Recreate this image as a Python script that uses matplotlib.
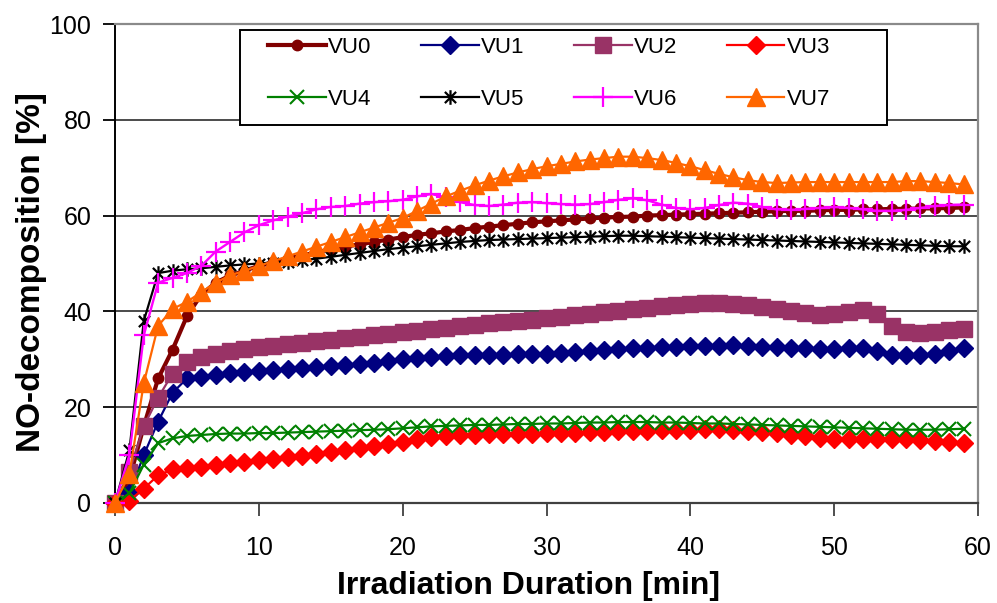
import matplotlib
matplotlib.use("Agg")
import matplotlib.pyplot as plt
from matplotlib.path import Path
from matplotlib.patches import Rectangle

plt.rcParams['font.family'] = ['Liberation Sans', 'DejaVu Sans']

minutes = list(range(60))

vu0 = [0, 5, 16, 26, 32, 39, 43.5, 46, 47.5, 48.5, 49.5, 50.3, 51, 51.7, 52.3, 53, 53.5, 54, 54.5, 55,
       55.5, 56, 56.3, 56.7, 57, 57.4, 57.7, 58, 58.3, 58.6, 58.8, 59, 59.2, 59.4, 59.6, 59.7, 59.8, 60, 60.1, 60.2,
       60.3, 60.4, 60.5, 60.6, 60.7, 60.8, 60.9, 61, 61, 61.1, 61.2, 61.2, 61.3, 61.3, 61.4, 61.4, 61.5, 61.5, 61.6, 61.7]
vu1 = [0, 2, 10, 17, 23, 26, 26.3, 26.8, 27.2, 27.4, 27.6, 27.8, 28, 28.1, 28.3, 28.5, 28.8, 29, 29.3, 29.6,
       30, 30.2, 30.4, 30.6, 30.8, 30.9, 31, 31, 31.1, 31.1, 31.2, 31.3, 31.5, 31.7, 32, 32.2, 32.3, 32.4, 32.5, 32.6,
       32.7, 32.8, 32.8, 32.9, 32.8, 32.6, 32.5, 32.4, 32.3, 32.2, 32.2, 32.3, 32.4, 31.8, 31, 31, 30.8, 31.2, 31.8, 32.4]
vu2 = [0, 6.5, 16, 22, 27, 29.5, 30.5, 31.2, 31.8, 32.2, 32.5, 32.8, 33.2, 33.5, 33.8, 34.1, 34.4, 34.7, 35, 35.3,
       35.7, 36, 36.3, 36.6, 36.9, 37.2, 37.5, 37.8, 38, 38.3, 38.6, 38.9, 39.2, 39.5, 39.8, 40.1, 40.5, 40.8, 41.1, 41.4,
       41.6, 41.7, 41.7, 41.6, 41.3, 40.9, 40.5, 40.1, 39.6, 39.3, 39.4, 39.8, 40.2, 39.5, 37, 35.8, 35.5, 35.8, 36.1, 36.4]
vu3 = [0, 0.5, 3, 5.8, 7, 7.3, 7.6, 8, 8.3, 8.6, 8.9, 9.2, 9.5, 9.8, 10.2, 10.6, 11, 11.4, 11.9, 12.3,
       12.8, 13.3, 13.8, 14, 14.2, 14.3, 14.4, 14.4, 14.5, 14.5, 14.6, 14.6, 14.7, 14.8, 14.9, 15, 15, 15.1, 15.2, 15.3,
       15.3, 15.4, 15.4, 15.3, 15.1, 14.9, 14.6, 14.3, 13.9, 13.6, 13.4, 13.4, 13.4, 13.4, 13.3, 13.3, 13.2, 13, 12.8, 12.5]
vu4 = [0, 2, 8, 12.5, 13.5, 14, 14.2, 14.4, 14.5, 14.5, 14.6, 14.6, 14.7, 14.8, 14.9, 15, 15.1, 15.2, 15.3, 15.4,
       15.6, 15.8, 16, 16.1, 16.2, 16.3, 16.3, 16.4, 16.5, 16.5, 16.6, 16.6, 16.7, 16.8, 16.8, 16.9, 16.9, 16.9, 16.8, 16.8,
       16.7, 16.6, 16.6, 16.5, 16.4, 16.3, 16.2, 16.1, 16, 15.9, 15.8, 15.7, 15.6, 15.5, 15.4, 15.3, 15.3, 15.3, 15.4, 15.5]
vu5 = [0, 11, 38, 48, 48.5, 48.8, 49, 49.3, 49.6, 49.8, 50, 50.2, 50.4, 50.7, 51, 51.4, 51.8, 52.2, 52.6, 53,
       53.3, 53.6, 53.9, 54.2, 54.5, 54.7, 54.9, 55, 55.1, 55.2, 55.3, 55.4, 55.5, 55.6, 55.7, 55.8, 55.8, 55.7, 55.6, 55.5,
       55.4, 55.3, 55.2, 55.1, 55, 54.9, 54.8, 54.7, 54.6, 54.5, 54.4, 54.3, 54.2, 54.1, 54, 53.9, 53.8, 53.7, 53.6, 53.6]
vu6 = [0, 10, 35, 46, 47, 48, 49.5, 52.5, 54.5, 56.5, 58, 59, 59.8, 60.5, 61.3, 61.8, 62, 62.5, 62.8, 63,
       63.3, 64, 64.5, 63.8, 62.8, 62.2, 62, 62.3, 62.7, 62.8, 62.6, 62.4, 62.3, 62.4, 62.8, 63.3, 63.6, 63.2, 62.3, 61.6,
       61.3, 61.6, 62.2, 62.7, 62.5, 61.8, 61.3, 61.2, 61.4, 61.6, 61.8, 61.6, 61.3, 61, 61, 61.2, 61.6, 62, 62.2, 62.3]
vu7 = [0, 6, 25, 37, 40.5, 42, 44, 46, 47.5, 48.5, 49.5, 50.5, 51.5, 52.5, 53.5, 54.5, 55.5, 56.5, 57.5, 58.5,
       59.5, 61, 62.5, 64, 65.2, 66.3, 67.3, 68.2, 69, 69.7, 70.3, 70.8, 71.3, 71.7, 72, 72.3, 72.3, 72, 71.6, 71,
       70.3, 69.5, 68.7, 68, 67.4, 67, 66.8, 66.9, 67, 67, 67, 67, 67, 67, 67, 67.2, 67.2, 67, 66.8, 66.5]

labels = ['VU0', 'VU1', 'VU2', 'VU3', 'VU4', 'VU5', 'VU6', 'VU7']
x_ticks = [0, 10, 20, 30, 40, 50, 60]
y_ticks = [0, 20, 40, 60, 80, 100]

star = Path([(-1, -1), (1, 1), (-1, 1), (1, -1), (0, -1.3), (0, 1.3)],
            [Path.MOVETO, Path.LINETO, Path.MOVETO, Path.LINETO, Path.MOVETO, Path.LINETO])

styles = [
    dict(color='#800000', marker='o', ms=7.5, lw=3.0),
    dict(color='#000080', marker='D', ms=9.5, lw=1.6),
    dict(color='#993366', marker='s', ms=11, lw=1.6),
    dict(color='#FF0000', marker='D', ms=9.5, lw=1.6),
    dict(color='#008000', marker='x', ms=9.5, lw=1.6, mew=1.5),
    dict(color='#000000', marker=star, ms=10.5, lw=1.6, mew=1.6, mfc='none'),
    dict(color='#FF00FF', marker='+', ms=14, lw=1.7, mew=1.6),
    dict(color='#FF6600', marker='^', ms=13.5, lw=1.6),
]

series = [vu0, vu1, vu2, vu3, vu4, vu5, vu6, vu7]

fig = plt.figure(figsize=(9.97, 6.03), dpi=100)
ax = fig.add_axes([115/997, 1-503/603, 863/997, 479/603])

handles = []
for y, lab, st in zip(series, labels, styles):
    st = dict(st)
    c = st.pop('color')
    m = st.pop('marker')
    h, = ax.plot(minutes, y, color=c, marker=m, mec=c, mfc=st.pop('mfc', c),
                 markersize=st.pop('ms'), linewidth=st.pop('lw'), markeredgewidth=st.pop('mew', 1.0),
                 label=lab, clip_on=False, zorder=3)
    handles.append(h)

ax.set_xlim(0, 60)
ax.set_ylim(0, 100)
ax.set_xticks(x_ticks)
ax.set_yticks(y_ticks)
ax.yaxis.grid(True, color='#1a1a1a', linewidth=1.1, zorder=0)
ax.set_axisbelow(True)

ax.tick_params(axis='both', direction='out', length=9, width=1.3, labelsize=18, colors='black')
ax.tick_params(axis='x', pad=15, color='#404040')
ax.tick_params(axis='y', pad=8)

ax.spines['left'].set_color('black')
ax.spines['left'].set_linewidth(1.4)
ax.spines['bottom'].set_color('#404040')
ax.spines['bottom'].set_linewidth(1.6)
ax.spines['top'].set_color('#8a8a8a')
ax.spines['top'].set_linewidth(1.6)
ax.spines['right'].set_color('#8a8a8a')
ax.spines['right'].set_linewidth(1.6)

ax.set_xlabel('Irradiation Duration [min]', fontsize=23, fontweight='bold')
ax.set_ylabel('NO-decomposition [%]', fontsize=24, fontweight='bold')
ax.xaxis.set_label_coords(0.4786, -0.143)
ax.yaxis.set_label_coords(-0.079, 0.482)


def ax_x(px):
    return (px - 115) / 863


def ax_y(py):
    return (503 - py) / 479


frame = Rectangle((ax_x(240), ax_y(125)), ax_x(887) - ax_x(240), ax_y(30) - ax_y(125),
                  transform=ax.transAxes, facecolor='white', edgecolor='black', linewidth=1.4,
                  zorder=5, clip_on=False)
ax.add_patch(frame)

order = [0, 4, 1, 5, 2, 6, 3, 7]
leg = ax.legend([handles[i] for i in order], [labels[i] for i in order],
                loc='upper left', bbox_to_anchor=(ax_x(268), ax_y(37), ax_x(830) - ax_x(268), 0.0),
                mode='expand', ncol=4, fontsize=16, frameon=False,
                handlelength=2.6, handletextpad=0.1, labelspacing=1.4, borderpad=0.0,
                borderaxespad=0.0, columnspacing=1.0)
leg.set_zorder(6)

fig.savefig('out.png', dpi=100)
